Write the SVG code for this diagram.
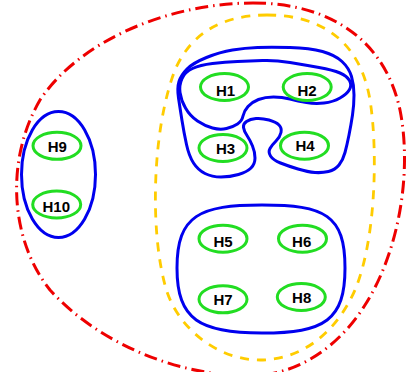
<svg xmlns="http://www.w3.org/2000/svg" width="406" height="372" viewBox="0 0 406 372">
<style>
.n{fill:none;stroke:#22dd22;stroke-width:3}
.t{font-family:"Liberation Sans",Arial,sans-serif;font-weight:bold;font-size:15px;fill:#000;text-anchor:middle}
.b{fill:none;stroke:#0000ee;stroke-width:3}
.r{fill:none;stroke:#ee0000;stroke-width:3;stroke-dasharray:13 5 1.5 5}
.y{fill:none;stroke:#ffcc00;stroke-width:2.8;stroke-dasharray:9 8}
</style>
<rect width="406" height="372" fill="#fff"/>
<g id="groups">
<path class="r" d="M 253 3 C 330 3, 385 40, 400 110 C 412 170, 400 250, 365 305 C 340 345, 300 375, 250 376 C 180 376, 100 345, 50 290 C 10 240, 5 160, 40 100 C 80 40, 170 3, 253 3 Z"/>
<path class="y" d="M 267 15 C 320 15, 360 40, 370 100 C 378 150, 376 240, 355 290 C 335 335, 300 360, 260 360 C 215 360, 175 325, 165 285 C 150 230, 152 130, 175 70 C 190 35, 220 15, 267 15 Z"/>
<path class="b" d="M 290 47.5 Q 310 48 322.5 51.5 Q 335 55 342 61.5 Q 349 68 351.5 76.5 Q 354 85 354 95 Q 354 105 352.5 115 Q 351 125 349 135 Q 347 145 345 152.5 Q 343 160 339 165 Q 335 170 328.5 171.5 Q 322 173 315 172.5 Q 308 172 298 169 Q 288 166 280.5 163 Q 273 160 270.5 156 Q 268 152 270 148.5 Q 272 145 276 141 Q 280 137 281 132.5 Q 282 128 279 125 Q 276 122 269 120 Q 262 118 256 118.5 Q 250 119 246.5 121.5 Q 243 124 243.5 127.5 Q 244 131 247 135.5 Q 250 140 252.5 146 Q 255 152 255 158 Q 255 164 251 168 Q 247 172 238.5 174.5 Q 230 177 221 177 Q 212 177 205 173.5 Q 198 170 193.5 163 Q 189 156 186.5 144.5 Q 184 133 182 120.5 Q 180 108 178.5 98 Q 177 88 179 81.5 Q 181 75 187 69 Q 193 63 206.5 57.5 Q 220 52 232.5 50 Q 245 48 257.5 47.5 Q 270 47 290 47.5 Z"/>
<path class="b" d="M 290 62.5 Q 305 65 319 67.5 Q 333 70 340 73 Q 347 76 349.5 80.5 Q 352 85 349.5 89.5 Q 347 94 340 98 Q 333 102 324 103 Q 315 104 306.5 102.5 Q 298 101 290 99 Q 282 97 273.5 97 Q 265 97 258.5 99.5 Q 252 102 248 106.5 Q 244 111 243 116 Q 242 121 237.5 124 Q 233 127 226.5 128.5 Q 220 130 212.5 128 Q 205 126 197.5 121 Q 190 116 185.5 108 Q 181 100 180 92.5 Q 179 85 182 78.5 Q 185 72 192.5 68.5 Q 200 65 212.5 63.5 Q 225 62 237.5 61.5 Q 250 61 262.5 60.5 Q 275 60 290 62.5 Z"/>
<path class="b" d="M 177 268 C 177 215, 200 205, 262 205 C 325 205, 345 215, 345 268 C 345 320, 325 333, 262 333 C 200 333, 177 320, 177 268 Z"/>
<ellipse class="b" cx="58.5" cy="174.5" rx="37" ry="63"/>
</g>
<g id="H1"><ellipse class="n" cx="224.5" cy="87" rx="24" ry="13.5"/><text class="t" x="225.5" y="96.2">H1</text></g>
<g id="H2"><ellipse class="n" cx="307.2" cy="87" rx="24" ry="13.5"/><text class="t" x="307" y="96.2">H2</text></g>
<g id="H3"><ellipse class="n" cx="223" cy="148" rx="24" ry="13.5"/><text class="t" x="225.5" y="154.4">H3</text></g>
<g id="H4"><ellipse class="n" cx="304.5" cy="145.7" rx="24" ry="13.5"/><text class="t" x="305" y="151.4">H4</text></g>
<g id="H5"><ellipse class="n" cx="223" cy="238.7" rx="24" ry="13.5"/><text class="t" x="223" y="247.4">H5</text></g>
<g id="H6"><ellipse class="n" cx="302.5" cy="238.7" rx="24" ry="13.5"/><text class="t" x="301.7" y="247.4">H6</text></g>
<g id="H7"><ellipse class="n" cx="223" cy="299.3" rx="24" ry="13.5"/><text class="t" x="223" y="305.4">H7</text></g>
<g id="H8"><ellipse class="n" cx="301.3" cy="297" rx="24" ry="13.5"/><text class="t" x="301.7" y="302.9">H8</text></g>
<g id="H9"><ellipse class="n" cx="57" cy="145.8" rx="24" ry="13.5"/><text class="t" x="57.3" y="151.9">H9</text></g>
<g id="H10"><ellipse class="n" cx="56.7" cy="204.5" rx="24" ry="13.5"/><text class="t" x="56.3" y="212.4">H10</text></g>
<g id="connectors"></g>
</svg>
